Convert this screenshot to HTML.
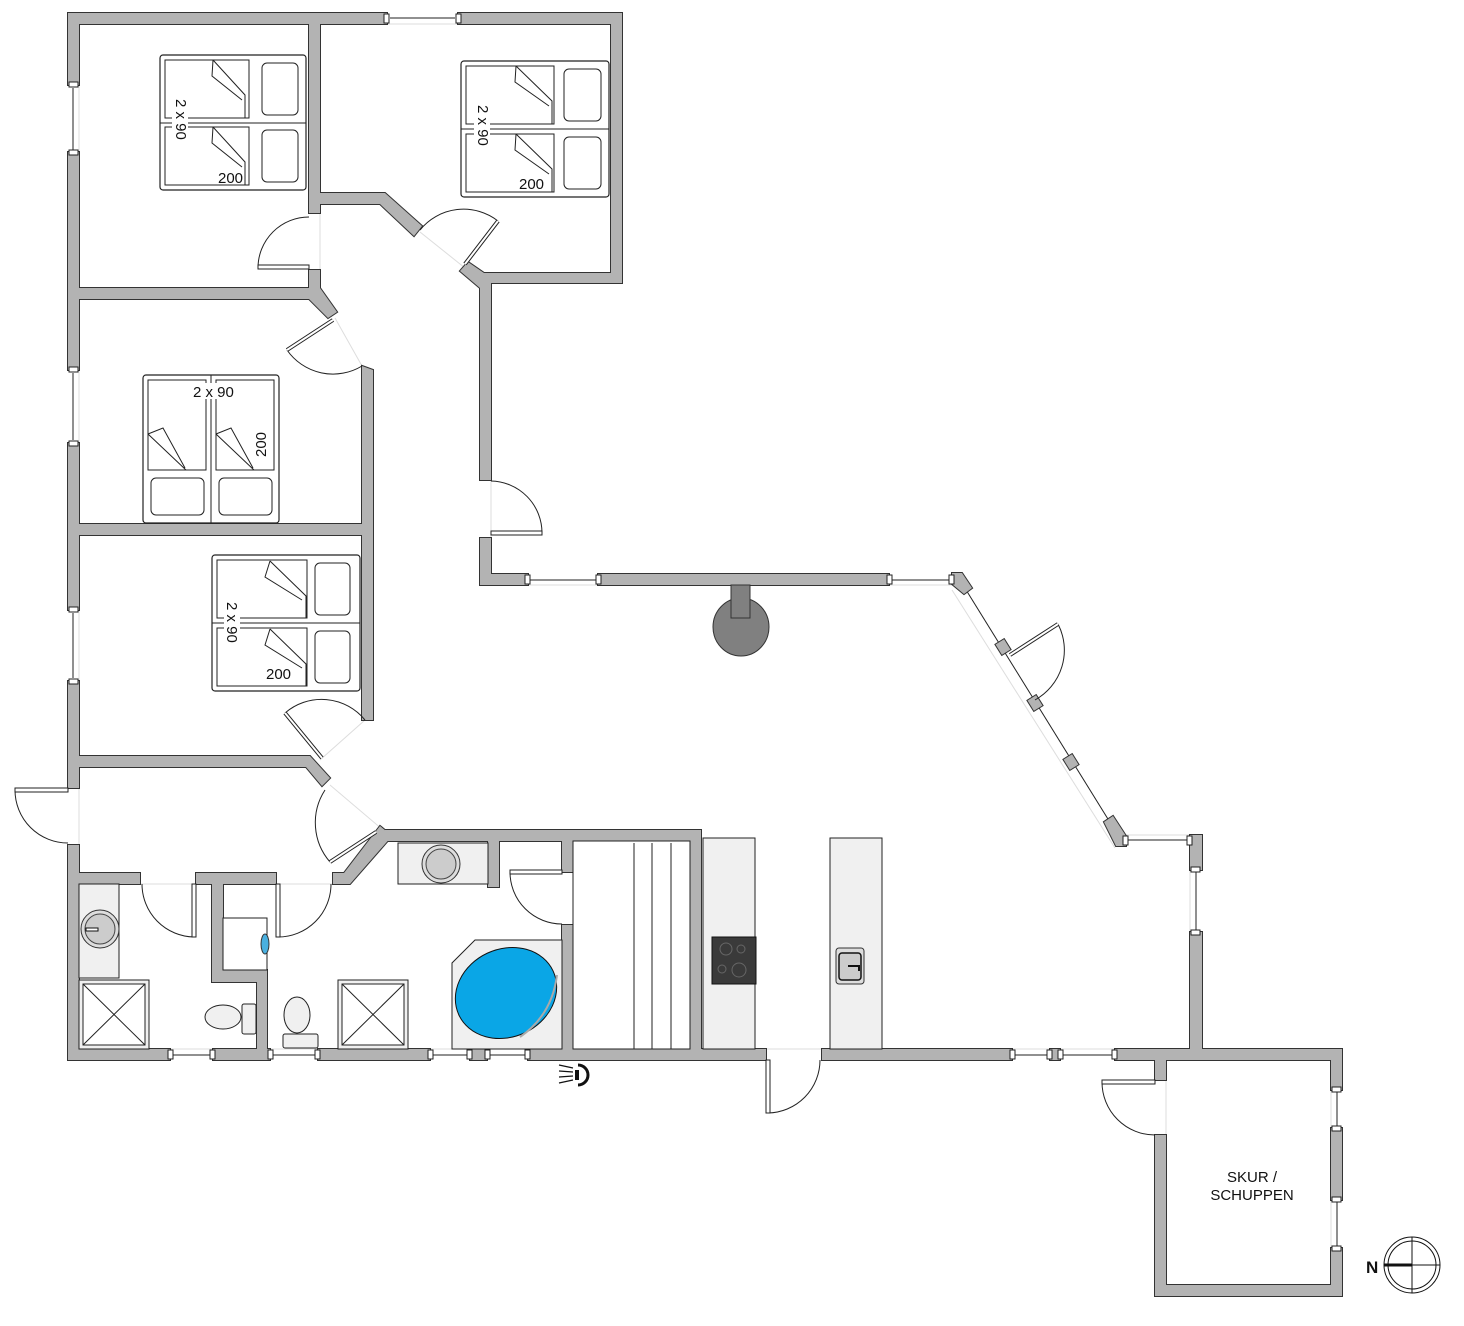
<!DOCTYPE html>
<html><head><meta charset="utf-8"><style>
html,body{margin:0;padding:0;background:#fff}
svg{display:block}
.w{fill:#b3b3b3;stroke:var(--s,#333);stroke-width:2}
.d{fill:none;stroke:#222;stroke-width:1}
.lf{fill:#fff;stroke:#222;stroke-width:1}
.win{stroke:#222;stroke-width:1}
.wl{stroke:#ddd;stroke-width:1}
.cap{fill:#fff;stroke:#222;stroke-width:1}
.bed{fill:#fff;stroke:#222;stroke-width:1.2}
.f{fill:#f0f0f0;stroke:#222;stroke-width:1}
text{font-family:"Liberation Sans",sans-serif;fill:#111}
</style></head><body>
<svg width="1464" height="1326" viewBox="0 0 1464 1326" xmlns="http://www.w3.org/2000/svg" xmlns:xlink="http://www.w3.org/1999/xlink">
<!-- window panes -->
<g>
<line class="wl" x1="387" y1="24" x2="458" y2="24"/><line class="win" x1="390" y1="18" x2="455" y2="18"/>
<line class="wl" x1="79" y1="85" x2="79" y2="152"/><line class="win" x1="73" y1="88" x2="73" y2="150"/>
<line class="wl" x1="79" y1="370" x2="79" y2="443"/><line class="win" x1="73" y1="373" x2="73" y2="440"/>
<line class="wl" x1="79" y1="610" x2="79" y2="681"/><line class="win" x1="73" y1="613" x2="73" y2="678"/>
<line class="wl" x1="79" y1="788" x2="79" y2="845"/>
<line class="wl" x1="480" y1="585" x2="960" y2="585"/>
<line class="win" x1="528" y1="580" x2="598" y2="580"/>
<line class="win" x1="889" y1="580" x2="952" y2="580"/>
<line class="wl" x1="952" y1="590" x2="1115" y2="848"/>
<line class="win" x1="963" y1="585" x2="1116" y2="832"/>
<line class="wl" x1="1123" y1="835" x2="1190" y2="835"/><line class="win" x1="1125" y1="840" x2="1190" y2="840"/>
<line class="wl" x1="1190" y1="870" x2="1190" y2="932"/><line class="win" x1="1196" y1="870" x2="1196" y2="932"/>
<line class="wl" x1="68" y1="1049" x2="1342" y2="1049"/>
<line class="win" x1="170" y1="1055" x2="213" y2="1055"/>
<line class="win" x1="270" y1="1055" x2="318" y2="1055"/>
<line class="win" x1="430" y1="1055" x2="528" y2="1055"/>
<line class="win" x1="1012" y1="1055" x2="1115" y2="1055"/>
<line class="win" x1="1337" y1="1090" x2="1337" y2="1128"/>
<line class="win" x1="1337" y1="1200" x2="1337" y2="1248"/>
<line class="wl" x1="1331" y1="1090" x2="1331" y2="1248"/>
<line class="wl" x1="320" y1="213" x2="320" y2="270"/>
<line class="wl" x1="140" y1="884" x2="333" y2="884"/>
<line class="wl" x1="573" y1="872" x2="573" y2="925"/>
<line class="wl" x1="491" y1="480" x2="491" y2="538"/>
<line class="wl" x1="766" y1="1049" x2="822" y2="1049"/>
<line class="wl" x1="1166" y1="1080" x2="1166" y2="1135"/>
<line class="wl" x1="420" y1="232" x2="465" y2="268"/>
<line class="wl" x1="335" y1="318" x2="362" y2="366"/>
<line class="wl" x1="320" y1="760" x2="365" y2="720"/>
<line class="wl" x1="330" y1="785" x2="383" y2="830"/>
</g>
<!-- walls -->
<g id="walls">
<rect class="w" x="68" y="13" width="11" height="72"/>
<rect class="w" x="68" y="152" width="11" height="218"/>
<rect class="w" x="68" y="443" width="11" height="167"/>
<rect class="w" x="68" y="681" width="11" height="107"/>
<rect class="w" x="68" y="845" width="11" height="215"/>
<rect class="w" x="68" y="13" width="319" height="11"/>
<rect class="w" x="458" y="13" width="164" height="11"/>
<rect class="w" x="611" y="13" width="11" height="270"/>
<rect class="w" x="478" y="273" width="144" height="10"/>
<rect class="w" x="309" y="13" width="11" height="200"/>
<polygon class="w" points="320,193 385,193 422,226 414,236 380,204 320,204"/>
<polygon class="w" points="468,262 484,273 491,283 491,480 480,480 480,288 460,271"/>
<rect class="w" x="480" y="538" width="11" height="47"/>
<rect class="w" x="480" y="574" width="48" height="11"/>
<rect class="w" x="598" y="574" width="291" height="11"/>
<polygon class="w" points="952,573 962,573 972,588 964,594 952,584"/>
<polygon class="w" points="1104,822 1113,816 1126,836 1126,846 1116,846"/>
<rect class="w" x="1190" y="835" width="12" height="35"/>
<rect class="w" x="1190" y="932" width="12" height="128"/>
<rect class="w" x="309" y="270" width="11" height="29"/>
<rect class="w" x="68" y="288" width="252" height="11"/>
<polygon class="w" points="309,288 320,288 337,312 328,318 309,299"/>
<polygon class="w" points="362,366 373,370 373,720 362,720"/>
<rect class="w" x="68" y="524" width="305" height="11"/>
<rect class="w" x="362" y="524" width="11" height="196"/>
<polygon class="w" points="68,756 310,756 330,778 322,786 306,767 68,767"/>
<polygon class="w" points="380,826 392,836 350,884 333,884 333,873 344,873"/>
<rect class="w" x="385" y="830" width="316" height="11"/>
<rect class="w" x="690" y="830" width="11" height="230"/>
<rect class="w" x="68" y="873" width="72" height="11"/>
<rect class="w" x="196" y="873" width="80" height="11"/>
<polygon class="w" points="212,873 223,873 223,970 267,970 267,1060 257,1060 257,982 212,982"/>
<rect class="w" x="488" y="830" width="11" height="57"/>
<rect class="w" x="562" y="830" width="11" height="42"/>
<rect class="w" x="562" y="925" width="11" height="135"/>
<rect class="w" x="68" y="1049" width="102" height="11"/>
<rect class="w" x="213" y="1049" width="57" height="11"/>
<rect class="w" x="318" y="1049" width="112" height="11"/>
<rect class="w" x="470" y="1049" width="17" height="11"/>
<rect class="w" x="528" y="1049" width="238" height="11"/>
<rect class="w" x="822" y="1049" width="190" height="11"/>
<rect class="w" x="1050" y="1049" width="10" height="11"/>
<rect class="w" x="1115" y="1049" width="227" height="11"/>
<rect class="w" x="1155" y="1049" width="11" height="31"/>
<rect class="w" x="1155" y="1135" width="11" height="161"/>
<rect class="w" x="1155" y="1285" width="187" height="11"/>
<rect class="w" x="1331" y="1049" width="11" height="41"/>
<rect class="w" x="1331" y="1128" width="11" height="72"/>
<rect class="w" x="1331" y="1248" width="11" height="48"/>
<rect class="w" x="998" y="641" width="10" height="12" transform="rotate(-32 1003 647)"/>
<rect class="w" x="1030" y="697" width="10" height="12" transform="rotate(-32 1035 703)"/>
<rect class="w" x="1066" y="756" width="10" height="12" transform="rotate(-32 1071 762)"/>
</g>
<use xlink:href="#walls" href="#walls" style="--s:none"/>
<!-- window caps -->
<g>
<rect class="cap" x="384" y="14" width="5" height="9"/><rect class="cap" x="456" y="14" width="5" height="9"/>
<rect class="cap" x="69" y="82" width="9" height="5"/><rect class="cap" x="69" y="150" width="9" height="5"/>
<rect class="cap" x="69" y="367" width="9" height="5"/><rect class="cap" x="69" y="441" width="9" height="5"/>
<rect class="cap" x="69" y="607" width="9" height="5"/><rect class="cap" x="69" y="679" width="9" height="5"/>
<rect class="cap" x="525" y="575" width="5" height="9"/><rect class="cap" x="596" y="575" width="5" height="9"/>
<rect class="cap" x="887" y="575" width="5" height="9"/><rect class="cap" x="949" y="575" width="5" height="9"/>
<rect class="cap" x="1123" y="836" width="5" height="9"/><rect class="cap" x="1187" y="836" width="5" height="9"/>
<rect class="cap" x="1191" y="867" width="9" height="5"/><rect class="cap" x="1191" y="930" width="9" height="5"/>
<rect class="cap" x="168" y="1050" width="5" height="9"/><rect class="cap" x="210" y="1050" width="5" height="9"/>
<rect class="cap" x="268" y="1050" width="5" height="9"/><rect class="cap" x="315" y="1050" width="5" height="9"/>
<rect class="cap" x="428" y="1050" width="5" height="9"/><rect class="cap" x="467" y="1050" width="5" height="9"/>
<rect class="cap" x="485" y="1050" width="5" height="9"/><rect class="cap" x="525" y="1050" width="5" height="9"/>
<rect class="cap" x="1010" y="1050" width="5" height="9"/><rect class="cap" x="1047" y="1050" width="5" height="9"/>
<rect class="cap" x="1058" y="1050" width="5" height="9"/><rect class="cap" x="1112" y="1050" width="5" height="9"/>
<rect class="cap" x="1332" y="1087" width="9" height="5"/><rect class="cap" x="1332" y="1126" width="9" height="5"/>
<rect class="cap" x="1332" y="1197" width="9" height="5"/><rect class="cap" x="1332" y="1246" width="9" height="5"/>
</g>
<!-- doors -->
<g>
<path class="d" d="M309,268 L258,268 A51,51 0 0 1 309,217"/>
<rect class="lf" x="258" y="265" width="51" height="4"/>
<path class="d" d="M498,221 A56,56 0 0 0 420,230"/>
<line x1="465" y1="264" x2="498" y2="221" stroke="#222" stroke-width="4"/><line x1="465" y1="264" x2="498" y2="221" stroke="#fff" stroke-width="2"/>
<path class="d" d="M287,350 A56,56 0 0 0 362,366"/>
<line x1="333" y1="320" x2="287" y2="350" stroke="#222" stroke-width="4"/><line x1="333" y1="320" x2="287" y2="350" stroke="#fff" stroke-width="2"/>
<path class="d" d="M285,713 A56,56 0 0 1 365,720"/>
<line x1="322" y1="758" x2="285" y2="713" stroke="#222" stroke-width="4"/><line x1="322" y1="758" x2="285" y2="713" stroke="#fff" stroke-width="2"/>
<path class="d" d="M330,862 A60,60 0 0 1 325,790"/>
<line x1="376" y1="832" x2="330" y2="862" stroke="#222" stroke-width="4"/><line x1="376" y1="832" x2="330" y2="862" stroke="#fff" stroke-width="2"/>
<path class="d" d="M15,790 A53,53 0 0 0 68,843"/>
<rect class="lf" x="15" y="788" width="53" height="4"/>
<path class="d" d="M194,937 A53,53 0 0 1 142,884"/>
<rect class="lf" x="192" y="884" width="4" height="53"/>
<path class="d" d="M278,937 A53,53 0 0 0 331,884"/>
<rect class="lf" x="276" y="884" width="4" height="53"/>
<path class="d" d="M510,872 A52,52 0 0 0 562,924"/>
<rect class="lf" x="510" y="870" width="52" height="4"/>
<path class="d" d="M542,533 A52,52 0 0 0 491,481"/>
<rect class="lf" x="491" y="531" width="51" height="4"/>
<path class="d" d="M1058,624 A57,57 0 0 1 1035,700"/>
<line x1="1010" y1="655" x2="1058" y2="624" stroke="#222" stroke-width="4"/><line x1="1010" y1="655" x2="1058" y2="624" stroke="#fff" stroke-width="2"/>
<path class="d" d="M768,1113 A53,53 0 0 0 820,1060"/>
<rect class="lf" x="766" y="1060" width="4" height="53"/>
<path class="d" d="M1102,1082 A53,53 0 0 0 1155,1135"/>
<rect class="lf" x="1102" y="1080" width="53" height="4"/>
</g>
<!-- beds -->
<g>
<rect class="bed" x="160" y="55" width="146" height="135" rx="3"/>
<line class="d" x1="160" y1="123" x2="306" y2="123"/>
<rect class="d" x="165" y="60" width="84" height="58"/><rect class="d" x="165" y="127" width="84" height="58"/>
<rect class="d" x="262" y="63" width="36" height="52" rx="5"/><rect class="d" x="262" y="130" width="36" height="52" rx="5"/>
<path class="d" d="M213,60 L245,95 L245,118 M213,60 L212,76 L242,100"/><path class="d" d="M213,127 L245,162 L245,185 M213,127 L212,143 L242,167"/>
<rect x="172" y="98" width="16" height="50" fill="#fff"/>
<text x="0" y="0" font-size="15" transform="translate(176,99) rotate(90)">2 x 90</text>
<text x="218" y="183" font-size="15">200</text>

<rect class="bed" x="461" y="61" width="148" height="136" rx="3"/>
<line class="d" x1="461" y1="129" x2="609" y2="129"/>
<rect class="d" x="466" y="66" width="88" height="58"/><rect class="d" x="466" y="134" width="88" height="58"/>
<rect class="d" x="564" y="69" width="37" height="52" rx="5"/><rect class="d" x="564" y="137" width="37" height="52" rx="5"/>
<path class="d" d="M516,66 L552,101 L552,124 M516,66 L515,82 L549,106"/><path class="d" d="M516,134 L552,169 L552,192 M516,134 L515,150 L549,174"/>
<rect x="474" y="104" width="16" height="50" fill="#fff"/>
<text font-size="15" transform="translate(478,105) rotate(90)">2 x 90</text>
<text x="519" y="189" font-size="15">200</text>

<rect class="bed" x="143" y="375" width="136" height="148" rx="3"/>
<line class="d" x1="211" y1="375" x2="211" y2="523"/>
<rect class="d" x="148" y="380" width="58" height="90"/><rect class="d" x="216" y="380" width="58" height="90"/>
<rect class="d" x="151" y="478" width="53" height="37" rx="5"/><rect class="d" x="219" y="478" width="53" height="37" rx="5"/>
<path class="d" d="M148,434 L186,470 L206,470 M148,434 L163,428 L185,468"/><path class="d" d="M216,434 L254,470 L274,470 M216,434 L231,428 L253,468"/>
<rect x="190" y="383" width="50" height="16" fill="#fff"/>
<text x="193" y="397" font-size="15">2 x 90</text>
<text font-size="15" transform="translate(266,457) rotate(-90)">200</text>

<rect class="bed" x="212" y="555" width="148" height="136" rx="3"/>
<line class="d" x1="212" y1="623" x2="360" y2="623"/>
<rect class="d" x="217" y="560" width="90" height="58"/><rect class="d" x="217" y="628" width="90" height="58"/>
<rect class="d" x="315" y="563" width="35" height="52" rx="5"/><rect class="d" x="315" y="631" width="35" height="52" rx="5"/>
<path class="d" d="M270,561 L306,596 L306,618 M270,561 L265,577 L302,600"/><path class="d" d="M270,629 L306,664 L306,686 M270,629 L265,645 L302,668"/>
<rect x="224" y="600" width="16" height="50" fill="#fff"/>
<text font-size="15" transform="translate(227,602) rotate(90)">2 x 90</text>
<text x="266" y="679" font-size="15">200</text>
</g>
<!-- fireplace -->
<ellipse cx="741" cy="627" rx="28" ry="29" fill="#808080" stroke="#333"/>
<rect x="731" y="585" width="19" height="33" fill="#808080" stroke="#333"/>
<!-- kitchen -->
<rect class="f" x="703" y="838" width="52" height="211"/>
<rect x="712" y="937" width="44" height="47" fill="#3a3a3a" stroke="#111"/>
<circle cx="726" cy="949" r="6" fill="none" stroke="#666"/><circle cx="741" cy="949" r="4" fill="none" stroke="#666"/>
<circle cx="722" cy="969" r="4" fill="none" stroke="#666"/><circle cx="739" cy="970" r="7" fill="none" stroke="#666"/>
<rect class="f" x="830" y="838" width="52" height="211"/>
<rect x="836" y="948" width="28" height="36" rx="3" fill="#ddd" stroke="#333"/>
<rect x="839" y="953" width="22" height="27" rx="3" fill="#ccc" stroke="#111" stroke-width="1.5"/>
<path d="M848,966 L859,966 L859,971" stroke="#111" stroke-width="2" fill="none"/>
<rect class="d" x="573" y="841" width="117" height="208" style="fill:#fff"/>
<line class="d" x1="634" y1="843" x2="634" y2="1049"/><line class="d" x1="652" y1="843" x2="652" y2="1049"/><line class="d" x1="671" y1="843" x2="671" y2="1049"/>
<!-- bathrooms -->
<rect class="f" x="79" y="884" width="40" height="94"/>
<circle cx="100" cy="929" r="19" fill="#ddd" stroke="#333"/><circle cx="100" cy="929" r="15" fill="#ccc" stroke="#444"/>
<rect x="86" y="928" width="12" height="3" fill="#fff" stroke="#111"/>
<rect class="f" x="79" y="980" width="70" height="69"/>
<rect x="83" y="984" width="62" height="61" fill="#fff" stroke="#222"/>
<path class="d" d="M83,984 L145,1045 M145,984 L83,1045"/>
<rect x="223" y="918" width="44" height="52" fill="#fff" stroke="#222"/>
<ellipse cx="265" cy="944" rx="4" ry="10" fill="#4ab0e0" stroke="#333"/>
<ellipse cx="223" cy="1017" rx="18" ry="12" fill="#f0f0f0" stroke="#222"/>
<rect x="242" y="1004" width="14" height="30" rx="2" fill="#f0f0f0" stroke="#222"/>
<ellipse cx="297" cy="1015" rx="13" ry="18" fill="#f0f0f0" stroke="#222"/>
<rect x="283" y="1034" width="35" height="14" rx="2" fill="#f0f0f0" stroke="#222"/>
<rect class="f" x="338" y="980" width="70" height="69"/>
<rect x="342" y="984" width="62" height="61" fill="#fff" stroke="#222"/>
<path class="d" d="M342,984 L404,1045 M404,984 L342,1045"/>
<rect class="f" x="398" y="843" width="90" height="41"/>
<circle cx="441" cy="864" r="19" fill="#ddd" stroke="#333"/><circle cx="441" cy="864" r="15" fill="#ccc" stroke="#444"/>
<polygon points="475,940 562,940 562,1049 452,1049 452,963" fill="#f0f0f0" stroke="#222"/>
<ellipse cx="506" cy="993" rx="52" ry="44" transform="rotate(-25 506 993)" fill="#0aa6e6" stroke="#111"/>
<path d="M557,975 Q552,1015 520,1037" stroke="#aaa" stroke-width="2" fill="none"/>
<g transform="translate(573,1075)"><path d="M5,-10 A10,10 0 1 1 5,10" stroke="#111" stroke-width="3" fill="none"/><rect x="2" y="-5" width="4" height="10" fill="#111"/><path d="M0,-7 L-14,-10 M0,-3 L-14,-4 M0,1 L-14,2 M0,5 L-14,8" stroke="#111" stroke-width="1.2"/></g>
<!-- shed text -->
<text x="1252" y="1182" font-size="15" text-anchor="middle">SKUR /</text>
<text x="1252" y="1200" font-size="15" text-anchor="middle">SCHUPPEN</text>
<!-- compass -->
<circle cx="1412" cy="1265" r="28" fill="none" stroke="#111"/>
<circle cx="1412" cy="1265" r="24" fill="none" stroke="#111"/>
<line x1="1412" y1="1237" x2="1412" y2="1293" stroke="#111"/>
<line x1="1384" y1="1265" x2="1440" y2="1265" stroke="#111"/>
<line x1="1384" y1="1265" x2="1412" y2="1265" stroke="#111" stroke-width="3"/>
<text x="1366" y="1273" font-size="17" font-weight="bold">N</text>
</svg>
</body></html>
